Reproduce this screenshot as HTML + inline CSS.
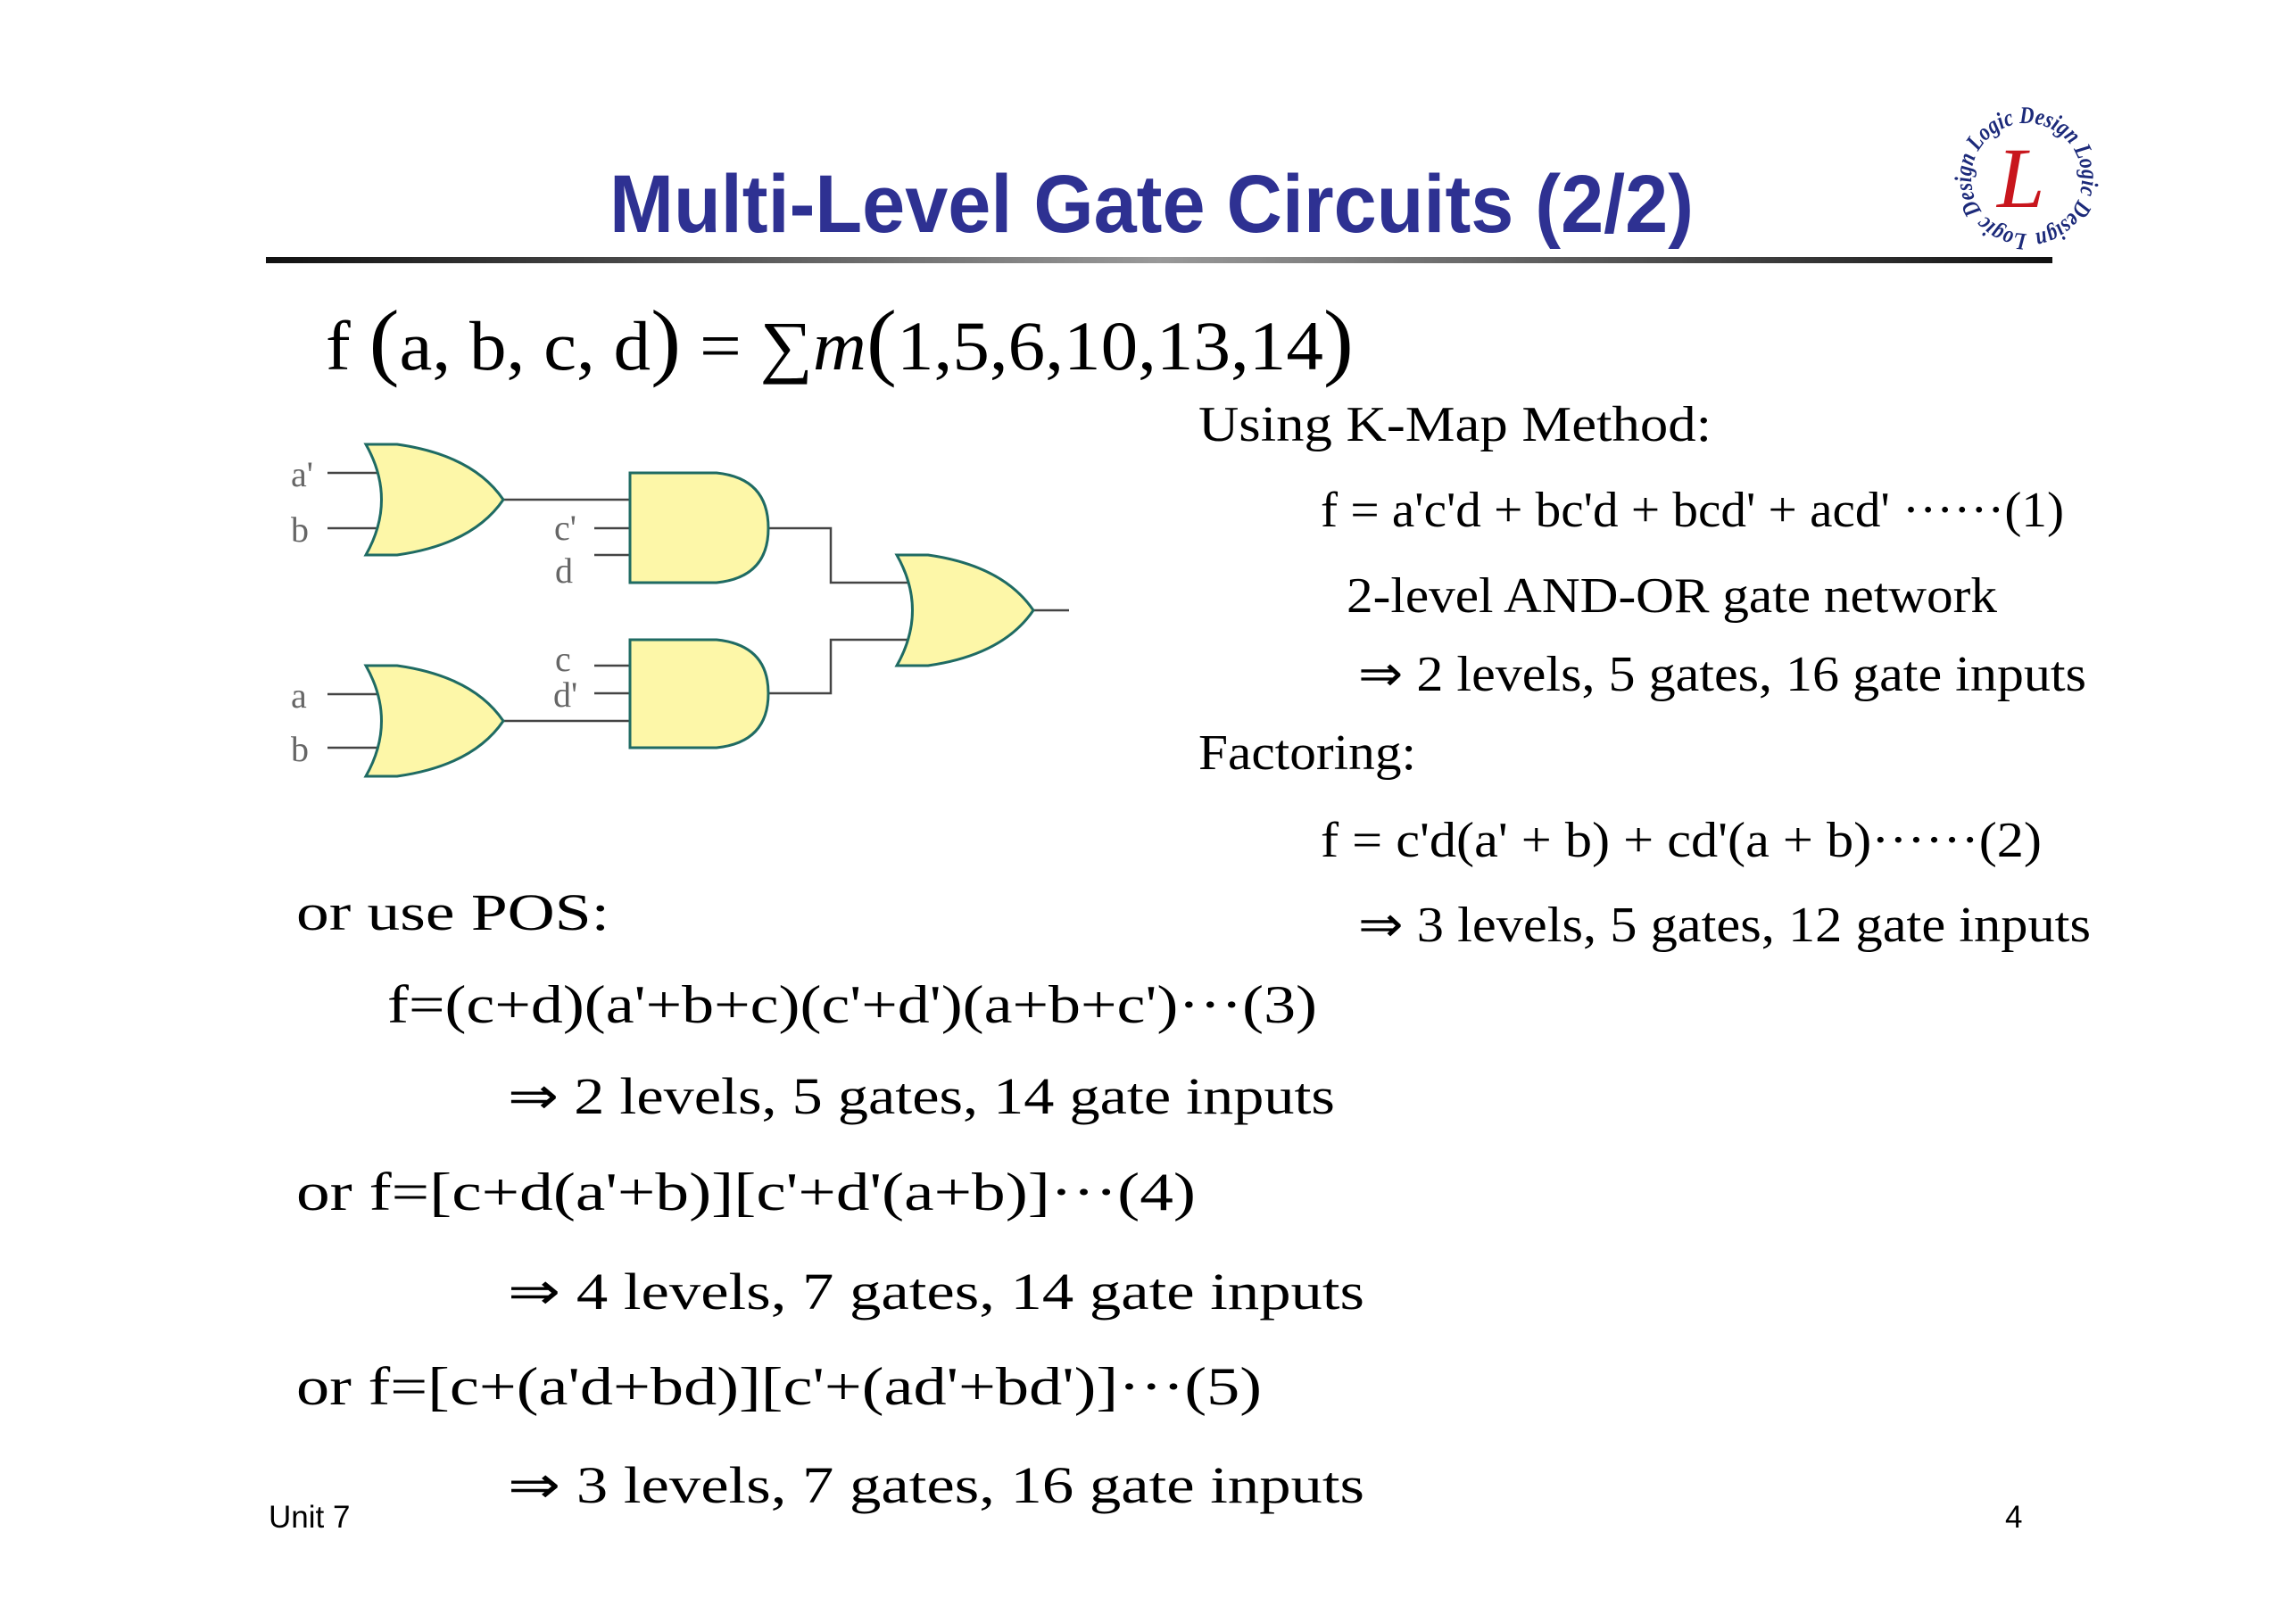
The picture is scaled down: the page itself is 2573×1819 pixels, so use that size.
<!DOCTYPE html>
<html><head><meta charset="utf-8"><style>
html,body{margin:0;padding:0;background:#fff;}
svg{display:block;}
.t{font-family:"Liberation Serif",serif;fill:#000;}
</style></head><body>
<svg width="2573" height="1819" viewBox="0 0 2573 1819" xmlns="http://www.w3.org/2000/svg">
<defs>
<linearGradient id="lg" x1="0" x2="1" y1="0" y2="0">
<stop offset="0" stop-color="#111"/><stop offset="0.5" stop-color="#999"/><stop offset="1" stop-color="#111"/>
</linearGradient>
<path id="circ" d="M2271,262 a62,62 0 1,1 0.1,0"/>
</defs>
<rect width="2573" height="1819" fill="#fff"/>
<text x="683" y="260" font-family="Liberation Sans, sans-serif" font-weight="bold" font-size="92" fill="#2e3192" textLength="1215" lengthAdjust="spacingAndGlyphs">Multi-Level Gate Circuits (2/2)</text>
<rect x="298" y="288" width="2002" height="7" fill="url(#lg)"/>
<!-- logo -->
<text font-family="Liberation Serif, serif" font-style="italic" font-weight="bold" font-size="27" fill="#1c2a7a" textLength="380" lengthAdjust="spacingAndGlyphs"><textPath href="#circ" startOffset="0">Logic Design Logic Design Logic Design</textPath></text>
<text x="2238" y="232" font-family="Liberation Serif, serif" font-style="italic" font-size="96" fill="#c8161d">L</text>

<text class="t" x="365" y="414" font-size="78" textLength="1152" lengthAdjust="spacingAndGlyphs">f <tspan font-size="96">(</tspan>a, b, c, d<tspan font-size="96">)</tspan> = ∑<tspan font-style="italic">m</tspan><tspan font-size="96">(</tspan>1,5,6,10,13,14<tspan font-size="96">)</tspan></text>

<text class="t" x="1343" y="494" font-size="56" textLength="575" lengthAdjust="spacingAndGlyphs">Using   K-Map Method:</text>
<text class="t" x="1480" y="590" font-size="56" textLength="833" lengthAdjust="spacingAndGlyphs">f = a'c'd + bc'd + bcd' + acd'  ······(1)</text>
<text class="t" x="1509" y="686" font-size="56" textLength="729" lengthAdjust="spacingAndGlyphs">2-level AND-OR gate network</text>
<text class="t" x="1522" y="774" font-size="56" textLength="816" lengthAdjust="spacingAndGlyphs">⇒ 2 levels, 5 gates, 16 gate inputs</text>
<text class="t" x="1343" y="862" font-size="56" textLength="244" lengthAdjust="spacingAndGlyphs">Factoring:</text>
<text class="t" x="1480" y="960" font-size="56" textLength="808" lengthAdjust="spacingAndGlyphs">f = c'd(a' + b) + cd'(a + b)······(2)</text>
<text class="t" x="1522" y="1055" font-size="56" textLength="821" lengthAdjust="spacingAndGlyphs">⇒ 3 levels, 5 gates, 12 gate inputs</text>

<text class="t" x="332" y="1042" font-size="58" textLength="351" lengthAdjust="spacingAndGlyphs">or  use  POS:</text>
<text class="t" x="434" y="1146" font-size="60" textLength="1042" lengthAdjust="spacingAndGlyphs">f=(c+d)(a'+b+c)(c'+d')(a+b+c')···(3)</text>
<text class="t" x="569" y="1248" font-size="58" textLength="927" lengthAdjust="spacingAndGlyphs">⇒ 2 levels, 5 gates, 14 gate inputs</text>
<text class="t" x="332" y="1356" font-size="60" textLength="1008" lengthAdjust="spacingAndGlyphs">or  f=[c+d(a'+b)][c'+d'(a+b)]···(4)</text>
<text class="t" x="569" y="1467" font-size="58" textLength="960" lengthAdjust="spacingAndGlyphs">⇒ 4 levels,  7 gates,  14 gate inputs</text>
<text class="t" x="332" y="1574" font-size="60" textLength="1082" lengthAdjust="spacingAndGlyphs">or  f=[c+(a'd+bd)][c'+(ad'+bd')]···(5)</text>
<text class="t" x="569" y="1684" font-size="58" textLength="960" lengthAdjust="spacingAndGlyphs">⇒ 3 levels,  7 gates,  16 gate inputs</text>

<text x="301" y="1712" font-family="Liberation Sans, sans-serif" font-size="35" fill="#000">Unit 7</text>
<text x="2247" y="1712" font-family="Liberation Sans, sans-serif" font-size="35" fill="#000">4</text>

<!-- circuit -->
<g stroke="#444" stroke-width="2.5" fill="none">
<line x1="367" y1="530" x2="428" y2="530"/><line x1="367" y1="592" x2="428" y2="592"/>
<line x1="367" y1="778" x2="428" y2="778"/><line x1="367" y1="838" x2="428" y2="838"/>
<line x1="564" y1="560" x2="706" y2="560"/><line x1="666" y1="592" x2="706" y2="592"/><line x1="666" y1="622" x2="706" y2="622"/>
<line x1="666" y1="746" x2="706" y2="746"/><line x1="666" y1="777" x2="706" y2="777"/><line x1="564" y1="808" x2="706" y2="808"/>
<polyline points="861,592 931,592 931,653 1020,653"/>
<polyline points="861,777 931,777 931,717 1020,717"/>
<line x1="1158" y1="684" x2="1198" y2="684"/>
</g>
<g fill="#fdf7a8" stroke="#1f6b63" stroke-width="3">
<path d="M410,498 L445,498 Q530,510 564,560 Q530,610 445,622 L410,622 Q445,560 410,498 Z"/>
<path d="M410,746 L445,746 Q530,758 564,808 Q530,858 445,870 L410,870 Q445,808 410,746 Z"/>
<path d="M1005,622 L1040,622 Q1124,634 1158,684 Q1124,734 1040,746 L1005,746 Q1040,684 1005,622 Z"/>
<path d="M706,530 L803,530 Q861,536 861,592 Q861,647 803,653 L706,653 Z"/>
<path d="M706,717 L803,717 Q861,723 861,777 Q861,832 803,838 L706,838 Z"/>
</g>
<g font-family="Liberation Serif, serif" font-size="40" fill="#666">
<text x="326" y="545">a'</text><text x="326" y="607">b</text>
<text x="326" y="793">a</text><text x="326" y="853">b</text>
<text x="621" y="605">c'</text><text x="622" y="653">d</text>
<text x="622" y="752">c</text><text x="620" y="792">d'</text>
</g>
</svg>
</body></html>
